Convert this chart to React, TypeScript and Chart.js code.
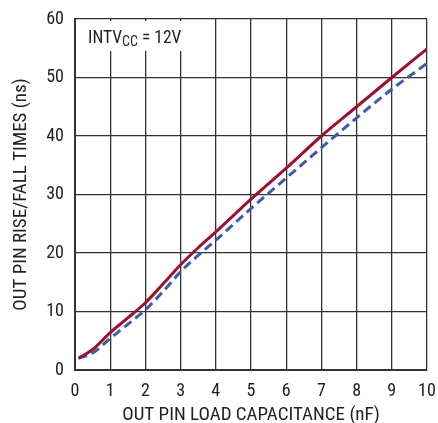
import React, { useEffect, useRef } from "react";
import { Chart, registerables } from "chart.js";

Chart.register(...registerables);

const capacitance = [0.1, 0.5, 1, 1.5, 2, 2.5, 3, 3.5, 4, 5, 6, 7, 8, 9, 10];
const riseTime = [2.0, 3.5, 6.4, 8.9, 11.5, 14.7, 18.0, 20.9, 23.6, 29.2, 34.5, 40.0, 45.0, 50.0, 54.9];
const fallTime = [2.0, 2.9, 5.4, 7.8, 10.3, 13.4, 16.8, 19.6, 22.2, 27.6, 32.8, 38.0, 43.1, 48.0, 52.4];
const xTicks = [0, 1, 2, 3, 4, 5, 6, 7, 8, 9, 10];
const yTicks = [0, 10, 20, 30, 40, 50, 60];
const xTitle = "OUT PIN LOAD CAPACITANCE (nF)";
const yTitle = "OUT PIN RISE/FALL TIMES (ns)";

const FONT = "'Liberation Sans Narrow', 'Roboto Condensed', 'DejaVu Sans Condensed', 'Liberation Sans', sans-serif";

const labelPlugin = {
  id: "intvccLabel",
  beforeDatasetsDraw(chart: any) {
    const { ctx, chartArea } = chart;
    ctx.save();
    ctx.fillStyle = "#ffffff";
    ctx.fillRect(chartArea.left + 2, chartArea.top + 2, 120, 30);
    ctx.fillStyle = "#222222";
    ctx.textBaseline = "alphabetic";
    ctx.font = `17.5px ${FONT}`;
    let x = chartArea.left + 13;
    const y = chartArea.top + 24;
    ctx.fillText("INTV", x, y);
    x += ctx.measureText("INTV").width;
    ctx.font = `14px ${FONT}`;
    ctx.fillText("CC", x, y + 3);
    x += ctx.measureText("CC").width;
    ctx.font = `17.5px ${FONT}`;
    ctx.fillText(" = 12V", x, y);
    ctx.restore();
  },
  afterDraw(chart: any) {
    const { ctx, chartArea } = chart;
    ctx.save();
    ctx.fillStyle = "#222222";
    ctx.font = `19px ${FONT}`;
    ctx.textAlign = "center";
    ctx.textBaseline = "alphabetic";
    ctx.fillText(xTitle, (chartArea.left + chartArea.right) / 2, 420);
    ctx.translate(26, (chartArea.top + chartArea.bottom) / 2);
    ctx.rotate(-Math.PI / 2);
    ctx.fillText(yTitle, 0, 0);
    ctx.restore();
  },
};

export default function App() {
  const ref = useRef<HTMLCanvasElement>(null);
  useEffect(() => {
    document.body.style.margin = "0";
    const canvas = ref.current!;
    const chart = new Chart(canvas, {
      type: "line",
      data: {
        datasets: [
          {
            label: "Rise",
            data: capacitance.map((c, i) => ({ x: c, y: riseTime[i] })),
            borderColor: "#9e1030",
            borderWidth: 3,
            pointRadius: 0,
            cubicInterpolationMode: "monotone",
            fill: false,
          },
          {
            label: "Fall",
            data: capacitance.map((c, i) => ({ x: c, y: fallTime[i] })),
            borderColor: "#3b5bab",
            borderWidth: 3,
            borderDash: [9, 5],
            pointRadius: 0,
            cubicInterpolationMode: "monotone",
            fill: false,
          },
        ],
      },
      options: {
        animation: false,
        responsive: false,
        layout: { padding: { top: 19, right: 11, left: 0, bottom: 0 } },
        plugins: { legend: { display: false }, tooltip: { enabled: false } },
        scales: {
          x: {
            type: "linear",
            min: 0,
            max: 10,
            afterBuildTicks: (s: any) => { s.ticks = xTicks.map((v) => ({ value: v })); },
            afterFit: (s: any) => { s.height = 53; s.paddingLeft = 0; s.paddingRight = 0; },
            grid: { color: "#333333", lineWidth: 1.3, drawTicks: false },
            border: { color: "#333333", width: 2 },
            ticks: { color: "#222", font: { family: FONT, size: 18 }, padding: 11, maxRotation: 0 },
            title: { display: false },
          },
          y: {
            type: "linear",
            min: 0,
            max: 60,
            afterBuildTicks: (s: any) => { s.ticks = yTicks.map((v) => ({ value: v })); },
            afterFit: (s: any) => { s.width = 75; s.paddingTop = 0; s.paddingBottom = 0; },
            grid: { color: "#333333", lineWidth: 1.3, drawTicks: false },
            border: { color: "#333333", width: 2 },
            ticks: { color: "#222", font: { family: FONT, size: 18 }, padding: 11 },
            title: { display: false },
          },
        },
      },
      plugins: [labelPlugin],
    } as any);
    return () => chart.destroy();
  }, []);
  return <canvas ref={ref} width={438} height={423} style={{ display: "block" }} />;
}
